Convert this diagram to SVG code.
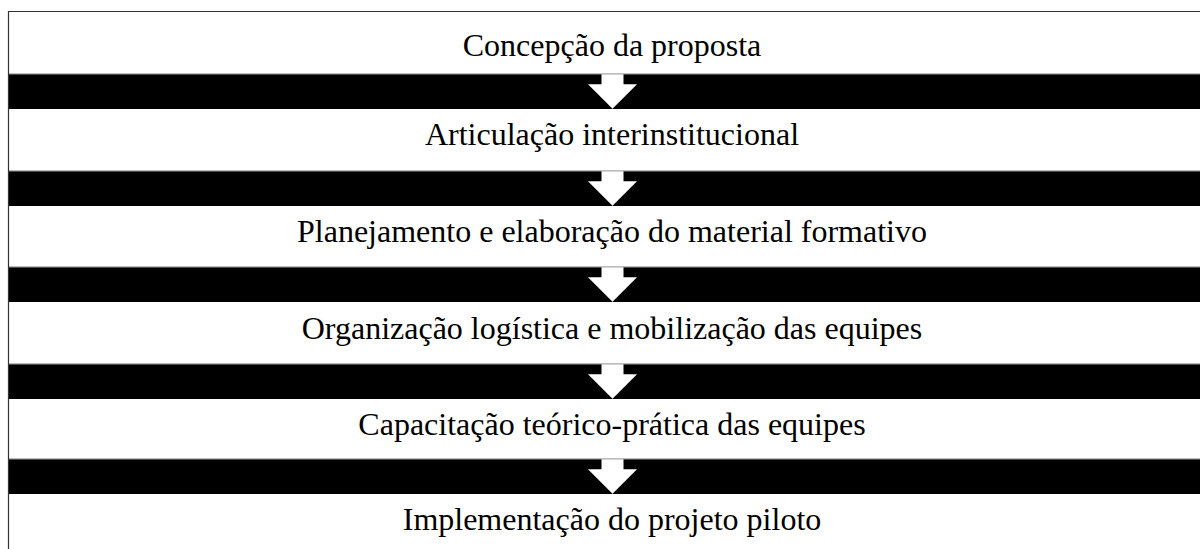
<svg xmlns="http://www.w3.org/2000/svg" width="1200" height="549" viewBox="0 0 1200 549">
<style>
.box{fill:#ffffff;}
.band{fill:#000000;}
.lbl{font-family:"Liberation Serif","Times New Roman",serif;font-size:32px;fill:#000;text-anchor:middle;}
.arr{fill:#ffffff;}
.sep{stroke:#bdbdbd;stroke-width:1;}
</style>
<defs>
<polygon id="ar" points="601.5,0 623.5,0 623.5,10 637,10 612.5,34.5 588,10 601.5,10"/>
</defs>
<rect x="0" y="0" width="1200" height="549" fill="#ffffff"/>
<g id="n1"><rect class="box" x="9" y="12" width="1191" height="62"/><line class="sep" x1="9" y1="73.5" x2="1200" y2="73.5"/><text class="lbl" x="612" y="56">Concepção da proposta</text></g>
<g id="n2"><rect class="box" x="9" y="109" width="1191" height="62"/><line class="sep" x1="9" y1="170.5" x2="1200" y2="170.5"/><text class="lbl" x="612" y="145">Articulação interinstitucional</text></g>
<g id="n3"><rect class="box" x="9" y="206" width="1191" height="61"/><line class="sep" x1="9" y1="266.5" x2="1200" y2="266.5"/><text class="lbl" x="612" y="242">Planejamento e elaboração do material formativo</text></g>
<g id="n4"><rect class="box" x="9" y="302" width="1191" height="62"/><line class="sep" x1="9" y1="363.5" x2="1200" y2="363.5"/><text class="lbl" x="612" y="339">Organização logística e mobilização das equipes</text></g>
<g id="n5"><rect class="box" x="9" y="399" width="1191" height="60"/><line class="sep" x1="9" y1="458.5" x2="1200" y2="458.5"/><text class="lbl" x="612" y="435">Capacitação teórico-prática das equipes</text></g>
<g id="n6"><rect class="box" x="9" y="494" width="1191" height="55"/><text class="lbl" x="612" y="530">Implementação do projeto piloto</text></g>
<g id="connectors">
<rect class="band" x="9" y="74.3" width="1191" height="34.7"/>
<rect class="band" x="9" y="171.3" width="1191" height="34.7"/>
<rect class="band" x="9" y="267.3" width="1191" height="34.7"/>
<rect class="band" x="9" y="364.3" width="1191" height="34.7"/>
<rect class="band" x="9" y="459.3" width="1191" height="34.7"/>
<use href="#ar" class="arr" y="74.3"/>
<use href="#ar" class="arr" y="171.3"/>
<use href="#ar" class="arr" y="267.3"/>
<use href="#ar" class="arr" y="364.3"/>
<use href="#ar" class="arr" y="459.3"/>
</g>
<path d="M8.5,549 V11.5 H1200" fill="none" stroke="#333333" stroke-width="1.2"/>
</svg>
